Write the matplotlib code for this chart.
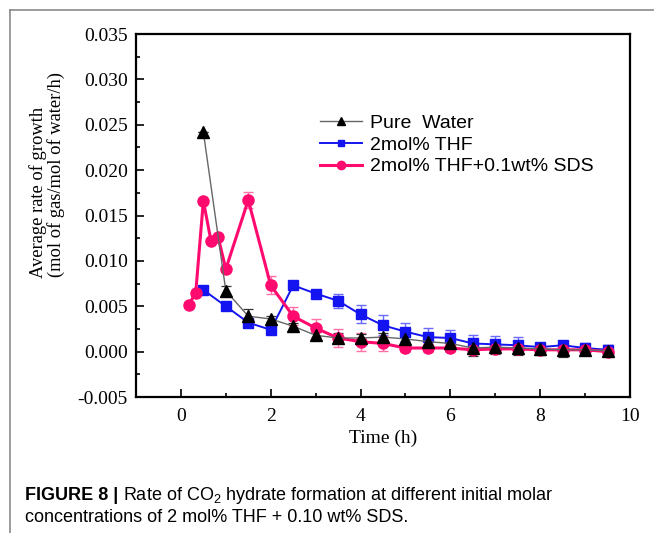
import numpy as np
import matplotlib
matplotlib.use("Agg")
import matplotlib.pyplot as plt
from matplotlib.lines import Line2D
from matplotlib.ticker import MultipleLocator, FormatStrFormatter

# ---- data ----
time_pure = [0.5, 1.0, 1.5, 2.0, 2.5, 3.0, 3.5, 4.0, 4.5, 5.0, 5.5, 6.0, 6.5, 7.0, 7.5, 8.0, 8.5, 9.0, 9.5]
rate_pure = [0.0242, 0.0067, 0.0039, 0.0036, 0.0028, 0.0018, 0.0015, 0.0015, 0.0016, 0.0014,
             0.0011, 0.0009, 0.0004, 0.0005, 0.0004, 0.0003, 0.0002, 0.0002, 0.0001]
err_pure = [0.0, 0.0005, 0.0008, 0.0003, 0.0004, 0.0004, 0.0005, 0.0004, 0.0005, 0.0006,
            0.0007, 0.0008, 0.0009, 0.0008, 0.0008, 0.0007, 0.0008, 0.0006, 0.0006]

time_thf = [0.5, 1.0, 1.5, 2.0, 2.5, 3.0, 3.5, 4.0, 4.5, 5.0, 5.5, 6.0, 6.5, 7.0, 7.5, 8.0, 8.5, 9.0, 9.5]
rate_thf = [0.0068, 0.0050, 0.0032, 0.0024, 0.0073, 0.0064, 0.0056, 0.0041, 0.0029, 0.0022,
            0.0016, 0.0015, 0.0009, 0.0008, 0.0007, 0.0005, 0.0007, 0.0004, 0.0002]
err_thf = [0.0, 0.0, 0.0, 0.0, 0.0, 0.0002, 0.0008, 0.001, 0.0011, 0.001,
           0.001, 0.0009, 0.0009, 0.0009, 0.0009, 0.0005, 0.0005, 0.0005, 0.0005]

time_sds = [0.17, 0.33, 0.5, 0.67, 0.83, 1.0, 1.5, 2.0, 2.5, 3.0, 3.5, 4.0, 4.5, 5.0, 5.5, 6.0,
            6.5, 7.0, 7.5, 8.0, 8.5, 9.0, 9.5]
rate_sds = [0.0051, 0.0065, 0.0166, 0.0122, 0.0126, 0.0091, 0.0167, 0.0073, 0.0039, 0.0026,
            0.0015, 0.0011, 0.0009, 0.0004, 0.0004, 0.0004, 0.0002, 0.0003, 0.0003, 0.0002,
            0.0002, 0.0002, 0.0]
err_sds = [0.0, 0.0, 0.0, 0.0, 0.0, 0.0, 0.0009, 0.001, 0.001, 0.001, 0.001, 0.001, 0.0008,
           0.0004, 0.0004, 0.0004, 0.0004, 0.0004, 0.0004, 0.0004, 0.0004, 0.0004, 0.0004]

labels = ["Pure  Water", "2mol% THF", "2mol% THF+0.1wt% SDS"]

plt.rcParams["axes.unicode_minus"] = False
plt.rcParams["mathtext.fontset"] = "custom"
plt.rcParams["mathtext.rm"] = "Liberation Sans"
plt.rcParams["mathtext.bf"] = "Liberation Sans:bold"

W, H = 654, 533
fig = plt.figure(figsize=(W / 100, H / 100), dpi=100)
ax = fig.add_axes([136 / W, 1 - 397 / H, (630 - 136) / W, (397 - 34) / H])

# page frame lines (left + top)
fig.add_artist(Line2D([10 / W, 10 / W], [0, 1 - 10 / H], color="#8a8a8a", lw=1.2))
fig.add_artist(Line2D([10 / W, 1], [1 - 10 / H, 1 - 10 / H], color="#8a8a8a", lw=1.2))

pink = "#ff0a6e"
blue = "#1414f0"
grey = "#666666"

# error bars
ax.errorbar(time_thf, rate_thf, yerr=err_thf, fmt="none", ecolor="#6a6aff", elinewidth=1.0, capsize=3.5, capthick=1.0)
ax.errorbar(time_sds, rate_sds, yerr=err_sds, fmt="none", ecolor="#ff70a8", elinewidth=1.0, capsize=3.5, capthick=1.0)
ax.errorbar(time_pure, rate_pure, yerr=err_pure, fmt="none", ecolor="#333333", elinewidth=0.9, capsize=3.5, capthick=0.9)

h2, = ax.plot(time_thf, rate_thf, color=blue, lw=1.4, marker="s", ms=6.5, mfc=blue, mec=blue, label=labels[1])
h3, = ax.plot(time_sds, rate_sds, color=pink, lw=2.2, marker="o", ms=8, mfc=pink, mec=pink, label=labels[2])
h1, = ax.plot(time_pure, rate_pure, color=grey, lw=1.0, marker="^", ms=8, mfc="black", mec="black", label=labels[0])

ax.set_xlim(-1, 10)
ax.set_ylim(-0.005, 0.035)
ax.xaxis.set_major_locator(MultipleLocator(2))
ax.xaxis.set_minor_locator(MultipleLocator(1))
ax.yaxis.set_major_locator(MultipleLocator(0.005))
ax.yaxis.set_minor_locator(MultipleLocator(0.0025))
ax.yaxis.set_major_formatter(FormatStrFormatter("%.3f"))

for s in ax.spines.values():
    s.set_linewidth(1.6)
ax.tick_params(which="both", direction="in", top=False, right=False, width=1.2)
ax.tick_params(which="major", length=6, pad=6)
ax.tick_params(axis="x", which="major", pad=8)
ax.tick_params(which="minor", length=3)

serif = "Liberation Serif"
for lab in ax.get_xticklabels() + ax.get_yticklabels():
    lab.set_fontfamily(serif)
    lab.set_fontsize(14)

ax.set_xlabel("Time (h)", fontfamily=serif, fontsize=14, labelpad=3)
fig.text(38 / W, 1 - 192 / H, "Average rate of growth", rotation=90, ha="center", va="center",
         fontfamily=serif, fontsize=13.3)
fig.text(56 / W, 1 - 175 / H, "(mol of gas/mol of water/h)", rotation=90, ha="center", va="center",
         fontfamily=serif, fontsize=13.3)

ax.legend(handles=[h1, h2, h3], loc="upper left", bbox_to_anchor=(320 / W, 1 - 114 / H),
          bbox_transform=fig.transFigure, frameon=False, borderpad=0, borderaxespad=0,
          handlelength=2.15, handletextpad=0.4, labelspacing=0.22, markerscale=0.75,
          prop={"family": "Liberation Sans", "size": 14})

# caption
cap_x = 25 / W
t1 = fig.text(cap_x, 1 - 500 / H, "FIGURE 8 |", fontfamily="Liberation Sans", fontweight="bold",
              fontsize=13, ha="left", va="baseline")
fig.canvas.draw()
bb = t1.get_window_extent(renderer=fig.canvas.get_renderer())
fig.text(bb.x1 / W + 5 / W, 1 - 500 / H,
         r"Rate of CO$_\mathregular{2}$ hydrate formation at different initial molar",
         fontfamily="Liberation Sans", fontsize=13, ha="left", va="baseline")
fig.text(cap_x, 1 - 522 / H, "concentrations of 2 mol% THF + 0.10 wt% SDS.",
         fontfamily="Liberation Sans", fontsize=13, ha="left", va="baseline")

fig.savefig("out.png", dpi=100)
